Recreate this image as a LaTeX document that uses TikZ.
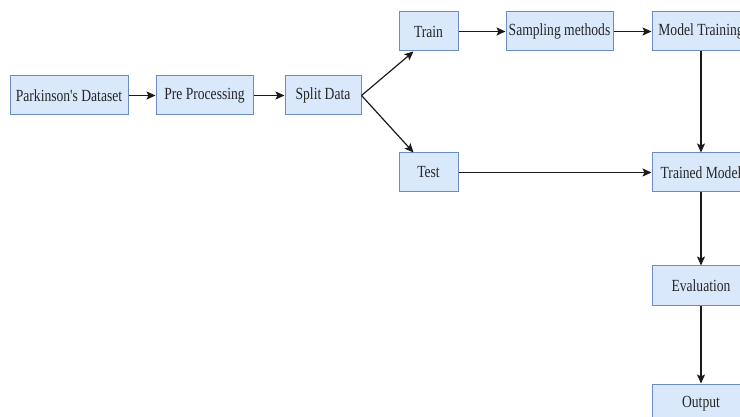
\documentclass[tikz,border=0pt]{standalone}
\usepackage{fontspec}
\setmainfont[FakeStretch=0.8,Ligatures=TeXOff]{Liberation Serif}
\usetikzlibrary{arrows.meta,calc}
\definecolor{boxfill}{HTML}{DAE8FC}
\definecolor{boxline}{HTML}{6C8EBF}
\definecolor{arrowc}{HTML}{1A1A1A}
\tikzset{
  stepbox/.style={draw=boxline, fill=boxfill, line width=1pt, inner sep=0pt,
    minimum height=39pt, font=\fontsize{17}{20}\selectfont, text=black!85},
  flow/.style={draw=arrowc, line width=1.2pt, -{Stealth[length=9pt,width=8pt,inset=2pt]}}
}
\begin{document}
\begin{tikzpicture}[x=1pt,y=-1pt]
\clip (0,0) rectangle (740,417);
\fill[white] (0,0) rectangle (740,417);
\node[stepbox, minimum width=118pt] (data) at (69,95.5) {Parkinson's Dataset};
\node[stepbox, minimum width=97pt] (pre) at (204.5,95.5) {Pre Processing};
\node[stepbox, minimum width=76pt] (split) at (323,95.5) {Split Data};
\node[stepbox, minimum width=59pt] (train) at (428.5,31.5) {Train};
\node[stepbox, minimum width=107pt] (samp) at (559.5,31.5) {Sampling methods};
\node[stepbox, minimum width=98pt] (mtrain) at (701,31.5) {Model Training};
\node[stepbox, minimum width=59pt] (test) at (428.5,172.5) {Test};
\node[stepbox, minimum width=98pt] (tmodel) at (701,172.5) {Trained Model};
\node[stepbox, minimum width=98pt] (eval) at (701,285.5) {Evaluation};
\node[stepbox, minimum width=98pt] (out) at (701,403.5) {Output};
\draw[flow] (data) -- (pre);
\draw[flow] (pre) -- (split);
\draw[flow] (split.east) -- ($(train.south west)!0.25!(train.south east)$);
\draw[flow] (split.east) -- ($(test.north west)!0.25!(test.north east)$);
\draw[flow] (train) -- (samp);
\draw[flow] (samp) -- (mtrain);
\draw[flow] (mtrain) -- (tmodel);
\draw[flow] (test) -- (tmodel);
\draw[flow] (tmodel) -- (eval);
\draw[flow] (eval) -- (out);
\end{tikzpicture}
\end{document}
